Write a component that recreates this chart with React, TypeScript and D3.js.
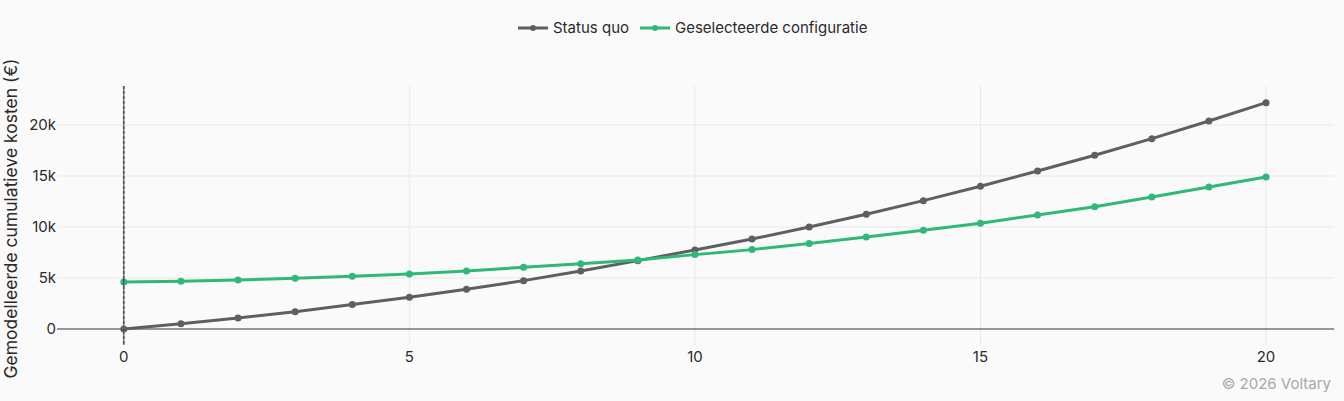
import { useEffect, useRef } from 'react';
import * as d3 from 'd3';

const years = [0, 1, 2, 3, 4, 5, 6, 7, 8, 9, 10, 11, 12, 13, 14, 15, 16, 17, 18, 19, 20];
const statusQuo = [0, 520, 1080, 1700, 2390, 3100, 3890, 4740, 5690, 6700, 7750, 8820, 10000, 11240, 12580, 13990, 15490, 17030, 18660, 20390, 22190];
const selectedConfig = [4600, 4670, 4800, 4970, 5160, 5390, 5690, 6050, 6400, 6760, 7290, 7780, 8370, 9020, 9670, 10360, 11180, 11990, 12940, 13920, 14900];
const xTicks = [0, 5, 10, 15, 20];
const yTicks = [0, 5000, 10000, 15000, 20000];
const seriesNames = ['Status quo', 'Geselecteerde configuratie'];
const seriesColors = ['#5f5f5f', '#2fb877'];

const W = 1344;
const H = 401;
const FONT = 'Inter, "Noto Sans", sans-serif';

export default function App() {
  const svgRef = useRef<SVGSVGElement>(null);

  useEffect(() => {
    document.body.style.margin = '0';
    document.body.style.background = '#fafafa';
    if (!svgRef.current) return;
    const svg = d3.select(svgRef.current);
    svg.selectAll('*').remove();

    const plot = { left: 57, right: 1334, top: 86, bottom: 345 };

    const x = d3.scaleLinear().domain([-1.17, 21.19]).range([plot.left, plot.right]);
    const y = d3.scaleLinear().domain([-1570, 23820]).range([plot.bottom, plot.top]);

    svg.append('rect').attr('width', W).attr('height', H).attr('fill', '#fafafa');

    // ── Grid ──
    svg
      .append('g')
      .selectAll('line')
      .data(yTicks.filter((d) => d !== 0))
      .join('line')
      .attr('x1', plot.left)
      .attr('x2', plot.right)
      .attr('y1', (d) => y(d))
      .attr('y2', (d) => y(d))
      .attr('stroke', '#e8e8e8')
      .attr('stroke-width', 1);

    svg
      .append('g')
      .selectAll('line')
      .data(xTicks.filter((d) => d !== 0))
      .join('line')
      .attr('x1', (d) => x(d))
      .attr('x2', (d) => x(d))
      .attr('y1', plot.top)
      .attr('y2', plot.bottom)
      .attr('stroke', '#e8e8e8')
      .attr('stroke-width', 1);

    // zero line
    svg
      .append('line')
      .attr('x1', plot.left)
      .attr('x2', plot.right)
      .attr('y1', y(0))
      .attr('y2', y(0))
      .attr('stroke', '#333')
      .attr('stroke-width', 1);

    // ── Tick labels ──
    svg
      .append('g')
      .selectAll('text')
      .data(yTicks)
      .join('text')
      .attr('x', plot.left - 1)
      .attr('y', (d) => y(d))
      .attr('dy', '0.35em')
      .attr('text-anchor', 'end')
      .attr('font-family', FONT)
      .attr('font-size', 15)
      .attr('fill', '#2a2a2a')
      .text((d) => (d === 0 ? '0' : `${d / 1000}k`));

    svg
      .append('g')
      .selectAll('text')
      .data(xTicks)
      .join('text')
      .attr('x', (d) => x(d))
      .attr('y', 357)
      .attr('dy', '0.35em')
      .attr('text-anchor', 'middle')
      .attr('font-family', FONT)
      .attr('font-size', 15)
      .attr('fill', '#2a2a2a')
      .text((d) => d);

    svg
      .append('text')
      .attr('transform', `translate(17,${(plot.top + plot.bottom) / 2 + 3}) rotate(-90)`)
      .attr('text-anchor', 'middle')
      .attr('font-family', FONT)
      .attr('font-size', 17.5)
      .attr('fill', '#2a2a2a')
      .text('Gemodelleerde cumulatieve kosten (€)');

    // ── Lines ──
    const seriesData = [statusQuo, selectedConfig];
    const line = d3
      .line<number>()
      .x((_, i) => x(years[i]))
      .y((d) => y(d));

    seriesData.forEach((vals, s) => {
      svg
        .append('path')
        .attr('d', line(vals))
        .attr('fill', 'none')
        .attr('stroke', seriesColors[s])
        .attr('stroke-width', 3)
        .attr('stroke-linejoin', 'round');
      svg
        .append('g')
        .selectAll('circle')
        .data(vals)
        .join('circle')
        .attr('cx', (_, i) => x(years[i]))
        .attr('cy', (d) => y(d))
        .attr('r', 3.5)
        .attr('fill', seriesColors[s]);
    });

    // ── Marker at year 0 ──
    svg
      .append('line')
      .attr('x1', x(0))
      .attr('x2', x(0))
      .attr('y1', plot.top)
      .attr('y2', plot.bottom)
      .attr('stroke', '#8a97a8')
      .attr('stroke-width', 2)
      .attr('stroke-dasharray', '3,2');
    svg
      .append('line')
      .attr('x1', x(0))
      .attr('x2', x(0))
      .attr('y1', plot.top)
      .attr('y2', plot.bottom)
      .attr('stroke', '#3a3f4a')
      .attr('stroke-width', 1);

    // ── Legend ──
    const legend = svg.append('g').attr('font-family', FONT).attr('font-size', 15).attr('fill', '#2a2a2a');
    const legendX = [518, 640];
    seriesNames.forEach((name, s) => {
      const g = legend.append('g').attr('transform', `translate(${legendX[s]},28)`);
      g.append('line').attr('x1', 0).attr('x2', 30).attr('stroke', seriesColors[s]).attr('stroke-width', 3);
      g.append('circle').attr('cx', 15).attr('r', 3).attr('fill', seriesColors[s]);
      g.append('text').attr('x', 35).attr('dy', '0.35em').text(name);
    });

    // ── Credit ──
    svg
      .append('text')
      .attr('x', 1331)
      .attr('y', 384)
      .attr('dy', '0.35em')
      .attr('text-anchor', 'end')
      .attr('font-family', FONT)
      .attr('font-size', 15)
      .attr('fill', '#a8a8a8')
      .text('© 2026 Voltary');
  }, []);

  return <svg ref={svgRef} width={W} height={H} style={{ display: 'block' }} />;
}
